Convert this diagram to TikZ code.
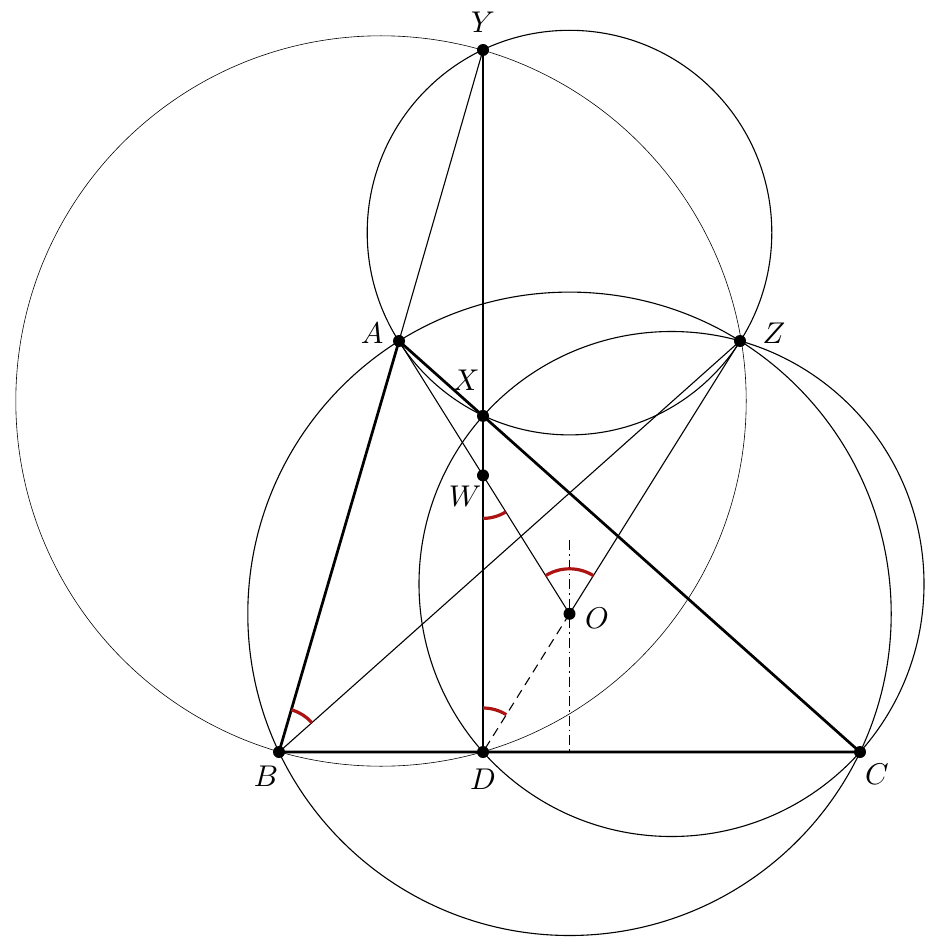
\documentclass[tikz,border=0pt]{standalone}
\usetikzlibrary{calc}
\definecolor{arcred}{RGB}{172,20,20}
\begin{document}
\begin{tikzpicture}[x=1pt,y=-1pt,
  thinln/.style={line width=1.1pt},
  hairln/.style={line width=0.6pt},
  thickln/.style={line width=2.7pt},
  angarc/.style={line width=3.2pt, color=arcred},
  dot/.style={circle, fill=black, inner sep=0pt, minimum size=12pt},
  lbl/.style={inner sep=0pt, scale=3, transform shape}]
\useasboundingbox (0,0) rectangle (938,944);
% points
\coordinate (B) at (279,752);
\coordinate (C) at (860,752);
\coordinate (D) at (483,752);
\coordinate (A) at (399,341);
\coordinate (Z) at (740,341);
\coordinate (Y) at (483,50);
\coordinate (X) at (483,415.9);
\coordinate (W) at (483,475.4);
\coordinate (O) at (569.5,613.8);
\coordinate (c1) at (569.5,232.6);
\coordinate (c2) at (381,401);
\coordinate (c3) at (671.5,584);
\coordinate (T) at (569.5,540);
\coordinate (F) at (569.5,752);
% circles
\draw[thinln] (O) circle[radius=321.7pt];
\draw[thinln] (c1) circle[radius=202.3pt];
\draw[hairln] (c2) circle[radius=365.2pt];
\draw[thinln] (c3) circle[radius=252.5pt];
% thin lines
\draw[thinln] (Y) -- (A);
\draw[thinln] (B) -- (Z);
\draw[thinln] (A) -- (O);
\draw[thinln] (Z) -- (O);
\draw[thinln, dash pattern=on 9pt off 6pt] (O) -- (D);
\draw[thinln, dash pattern=on 10pt off 4pt on 1.5pt off 4pt] (T) -- (F);
% thick lines
\draw[thickln] (A) -- (B) -- (C) -- cycle;
\draw[thickln] (Y) -- (D);
% angle arcs
\draw[angarc] (B) ++(41.7:44pt) arc[start angle=41.7, end angle=73.7, radius=44pt];
\draw[angarc] (W) ++(-90:43pt) arc[start angle=-90, end angle=-58, radius=43pt];
\draw[angarc] (O) ++(58:45pt) arc[start angle=58, end angle=122, radius=45pt];
\draw[angarc] (D) ++(58:44pt) arc[start angle=58, end angle=90, radius=44pt];
% dots
\foreach \p in {A,B,C,D,X,Y,Z,W,O} \node[dot] (d\p) at (\p) {};
% labels
\node[lbl] (lY) at (483,22) {$Y$};
\node[lbl] (lA) at (372,333) {$A$};
\node[lbl] (lZ) at (774,333) {$Z$};
\node[lbl] (lX) at (466,380) {$X$};
\node[lbl] (lW) at (465,496) {$W$};
\node[lbl] (lO) at (597,618) {$O$};
\node[lbl] (lB) at (266,776) {$B$};
\node[lbl] (lD) at (483,779) {$D$};
\node[lbl] (lC) at (877,774) {$C$};
\end{tikzpicture}
\end{document}
